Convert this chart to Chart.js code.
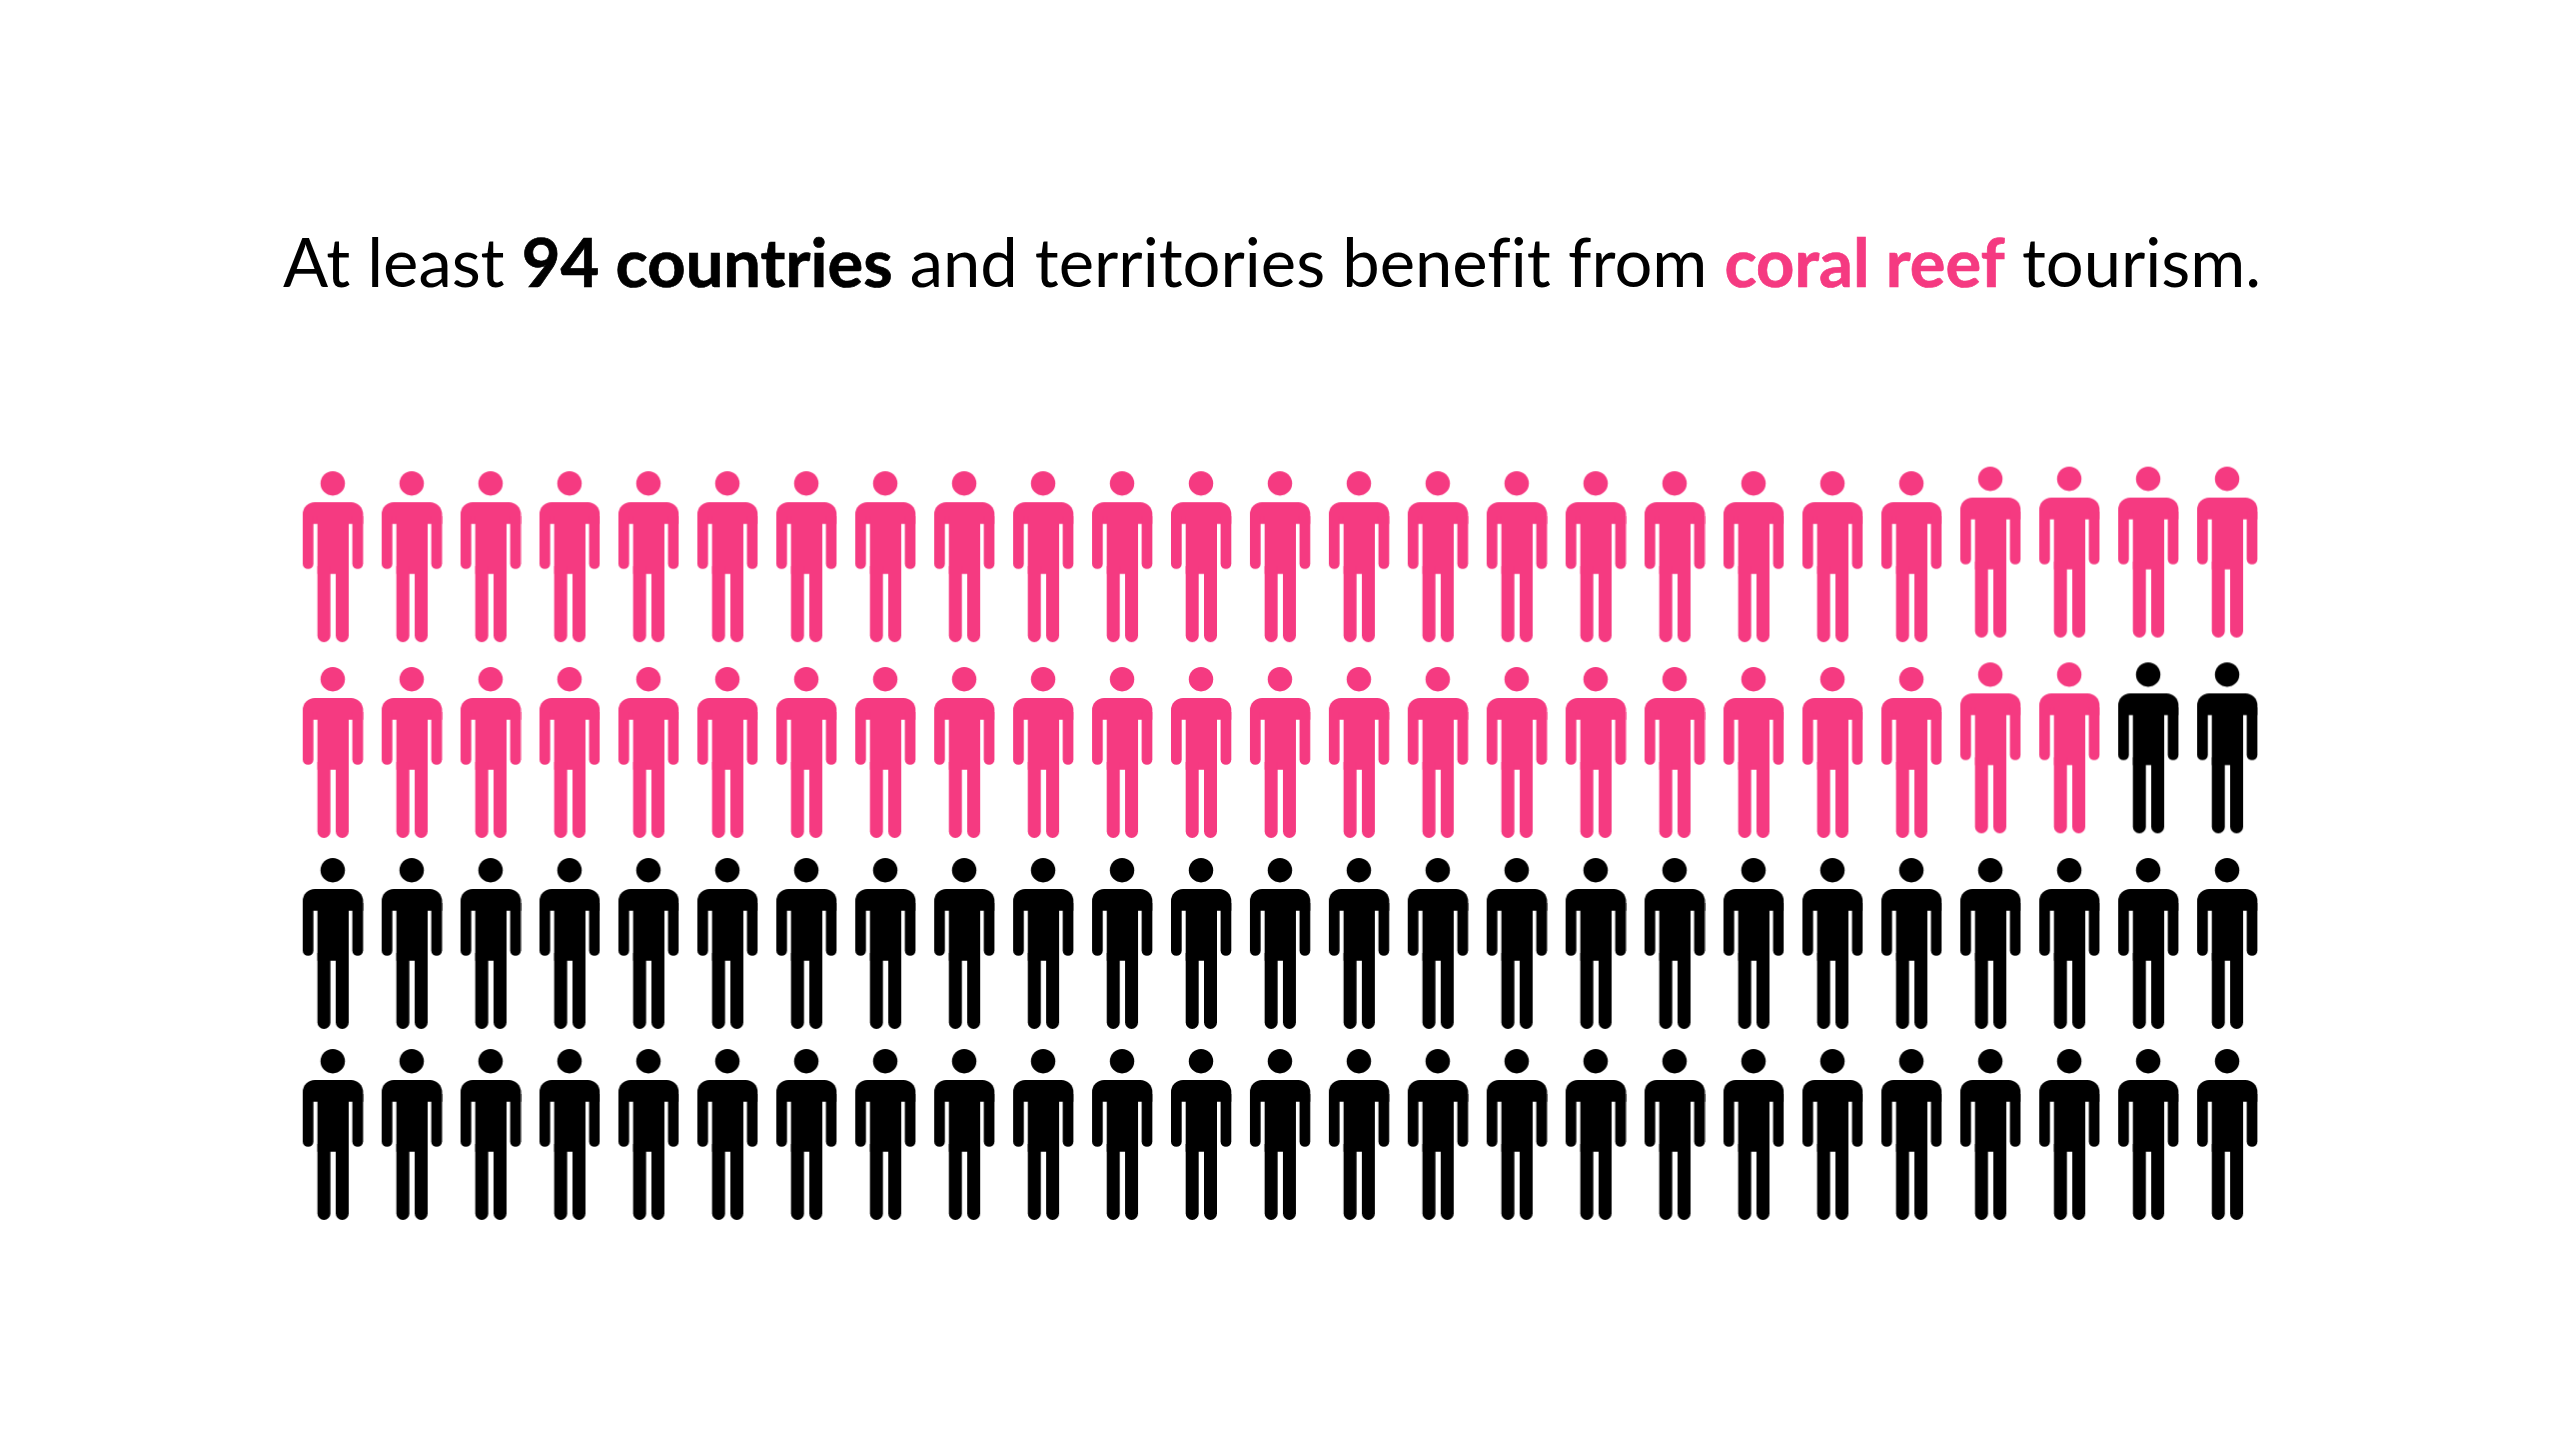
<!DOCTYPE html>
<html>
<head>
<meta charset="utf-8">
<style>
html,body{margin:0;padding:0;background:#fff;width:2560px;height:1440px;overflow:hidden}
#wrap{position:relative;width:2560px;height:1440px}
#c{position:absolute;left:0;top:0}
#title{position:absolute;left:-8px;width:2560px;top:216px;text-align:center;font:400 66.9px/90px Lato,sans-serif;font-variant-ligatures:none;color:#000;white-space:nowrap}
#title b{font-weight:700;-webkit-text-stroke:0.7px currentColor}
#title .hl{color:#F53A81}
</style>
<script src="https://cdn.jsdelivr.net/npm/chart.js@4"></script>
</head>
<body>
<div id="wrap">
<div id="title">At least <b>94 countries</b> and territories benefit from <b class="hl">coral reef</b> tourism.</div>
<canvas id="c" width="2560" height="1440"></canvas>
</div>
<script>
// Values
const columns = [1,2,3,4,5,6,7,8,9,10,11,12,13,14,15,16,17,18,19,20,21,22,23,24,25];
const rowLevels = [0.975,2,3,4];
const rowLift = [0.024,0.024,0,0];
const liftedFromColumn = 22;
const pinkPerRow = [25,23,0,0];
const pink = '#F53A81';
const black = '#000000';

const makeFigure = (color) => {
  const cv = document.createElement('canvas');
  cv.width = 62; cv.height = 174;
  const g = cv.getContext('2d');
  g.fillStyle = color;
  const ox = 1, oy = 1;
  const rr = (x,y,w,h,r) => { g.beginPath(); g.roundRect(ox+x, oy+y, w, h, r); g.fill(); };
  g.beginPath(); g.arc(ox+30, oy+12.2, 12.2, 0, Math.PI*2); g.fill();
  rr(0, 31, 60.3, 21.7, [12,12,0,0]);   // shoulders
  rr(0, 45, 10.7, 52.7, [0,0,5.3,5.3]); // left arm
  rr(49.6, 45, 10.7, 52.7, [0,0,5.3,5.3]); // right arm
  rr(14.7, 45, 31.3, 57.7, 0);           // torso
  rr(14.7, 95, 13, 76, [0,0,6.5,6.5]);   // left leg
  rr(33, 95, 13, 76, [0,0,6.5,6.5]);     // right leg
  return cv;
};
const pinkFigure = makeFigure(pink);
const blackFigure = makeFigure(black);

const pinkPts = [], blackPts = [];
rowLevels.forEach((level,i)=>columns.forEach((c,j)=>{
  const y = c >= liftedFromColumn ? level - rowLift[i] : level;
  (j < pinkPerRow[i] ? pinkPts : blackPts).push({x:c, y});
}));

new Chart(document.getElementById('c'), {
  type:'scatter',
  data:{datasets:[
    {label:'Coral reef tourism', data:pinkPts, pointStyle:pinkFigure, pointRadius:30, backgroundColor:pink},
    {label:'Other', data:blackPts, pointStyle:blackFigure, pointRadius:30, backgroundColor:black}
  ]},
  options:{
    responsive:false, animation:false, devicePixelRatio:1,
    layout:{padding:0, autoPadding:false},
    clip:false,
    plugins:{legend:{display:false},title:{display:false},tooltip:{enabled:false}},
    scales:{
      x:{type:'linear',display:false,bounds:'data',min:-3.215,max:29.218},
      y:{type:'linear',display:false,bounds:'data',reverse:true,min:-1.942,max:5.597}
    }
  }
});
</script>
</body>
</html>
